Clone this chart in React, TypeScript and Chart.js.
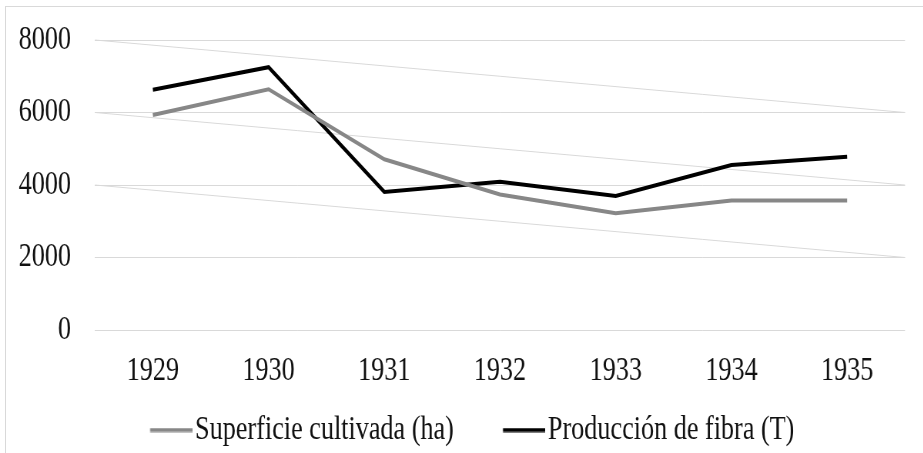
import React, { useEffect, useRef } from "react";
import { Chart, registerables } from "chart.js";

Chart.register(...registerables);

// ---- data ----
const years = ["1929", "1930", "1931", "1932", "1933", "1934", "1935"];
const superficie = [5930, 6640, 4710, 3740, 3220, 3570, 3570];
const produccion = [6630, 7250, 3810, 4090, 3700, 4550, 4780];
const seriesNames = ["Superficie cultivada (ha)", "Producción de fibra (T)"];
const yTicks = [0, 2000, 4000, 6000, 8000];
// slanted guide lines: [value at left edge, value at right edge]
const diagonalGuides: [number, number][] = [
  [8000, 6000],
  [6000, 4000],
  [4000, 2000],
];

// ---- layout constants (unscaled canvas space) ----
const SX = 0.77;
const CW = 1199;
const CH = 457;
const FONT = "'Liberation Serif', 'Times New Roman', serif";
const FS = 34;

const GRAY = "#878787";
const BLACK = "#000000";
const GRID = "#d9d9d9";

const LEG_W = 92.7;
const LEG_PAD = 12.5;
const LINE_LEN = 54.6;
const LEG_GAP = 3.9;

function legendImage(color: string) {
  const c = document.createElement("canvas");
  const iw = Math.round(LEG_W + FS - 2 * LEG_GAP);
  c.width = iw;
  c.height = 5;
  const ctx = c.getContext("2d")!;
  ctx.fillStyle = color;
  ctx.fillRect(iw - LINE_LEN, 0.5, LINE_LEN, 4);
  return c;
}

const diagPlugin = {
  id: "diagGuides",
  beforeDatasetsDraw(chart: any) {
    const { ctx, chartArea, scales } = chart;
    const y = scales.y;
    ctx.save();
    ctx.strokeStyle = GRID;
    ctx.lineWidth = 1;
    for (const [a, b] of diagonalGuides) {
      ctx.beginPath();
      ctx.moveTo(chartArea.left, y.getPixelForValue(a));
      ctx.lineTo(chartArea.right, y.getPixelForValue(b));
      ctx.stroke();
    }
    ctx.restore();
  },
};

export default function App() {
  const ref = useRef<HTMLCanvasElement | null>(null);

  useEffect(() => {
    if (!ref.current) return;
    const imgs = [legendImage(GRAY), legendImage(BLACK)];
    const chart = new Chart(ref.current, {
      type: "line",
      data: {
        labels: years,
        datasets: [
          {
            label: seriesNames[0],
            data: superficie,
            borderColor: GRAY,
            backgroundColor: GRAY,
            borderWidth: 4,
            pointRadius: 0,
            tension: 0,
          },
          {
            label: seriesNames[1],
            data: produccion,
            borderColor: BLACK,
            backgroundColor: BLACK,
            borderWidth: 4,
            pointRadius: 0,
            tension: 0,
          },
        ],
      },
      options: {
        animation: false,
        responsive: false,
        devicePixelRatio: 1,
        layout: { padding: { left: 0, right: CW - 905 / SX, top: 40, bottom: 0 } },
        scales: {
          x: {
            offset: true,
            grid: { display: false, drawTicks: false },
            border: { display: false },
            ticks: { font: { family: FONT, size: FS }, color: "#111", padding: 21 },
            afterFit: (s: any) => {
              s.height = 70.5;
            },
          },
          y: {
            min: 0,
            max: 8000,
            afterBuildTicks: (s: any) => {
              s.ticks = yTicks.map((v) => ({ value: v }));
            },
            grid: {
              color: GRID,
              lineWidth: 1,
              drawTicks: true,
              tickLength: 31.2,
              tickColor: "rgba(0,0,0,0)",
            },
            border: { display: false },
            ticks: {
              font: { family: FONT, size: FS },
              color: "#111",
              padding: 0,
              callback: (v: any) => String(v),
            },
            afterFit: (s: any) => {
              s.width = 95 / SX;
            },
          },
        },
        plugins: {
          tooltip: { enabled: false },
          legend: {
            position: "bottom",
            labels: {
              font: { family: FONT, size: FS },
              color: "#111",
              usePointStyle: true,
              pointStyleWidth: LEG_W,
              padding: LEG_PAD,
              generateLabels: (ch: any) => {
                const items = Chart.defaults.plugins.legend.labels.generateLabels(ch);
                return items.map((it: any, i: number) => ({ ...it, pointStyle: imgs[i] }));
              },
            },
          },
        },
      },
      plugins: [diagPlugin],
    } as any);
    return () => chart.destroy();
  }, []);

  return (
    <div
      style={{
        position: "absolute",
        left: 0,
        top: 0,
        width: 923,
        height: 453,
        overflow: "hidden",
        background: "#fff",
      }}
    >
      <div
        style={{
          position: "absolute",
          left: 5,
          top: 6,
          width: 1000,
          height: 1000,
          borderLeft: "1px solid " + GRID,
          borderTop: "1px solid " + GRID,
        }}
      />
      <div
        style={{
          position: "absolute",
          left: 0,
          top: 0,
          width: CW,
          height: CH,
          transform: `scaleX(${SX})`,
          transformOrigin: "0 0",
        }}
      >
        <canvas ref={ref} width={CW} height={CH} style={{ width: CW, height: CH, display: "block" }} />
      </div>
    </div>
  );
}
